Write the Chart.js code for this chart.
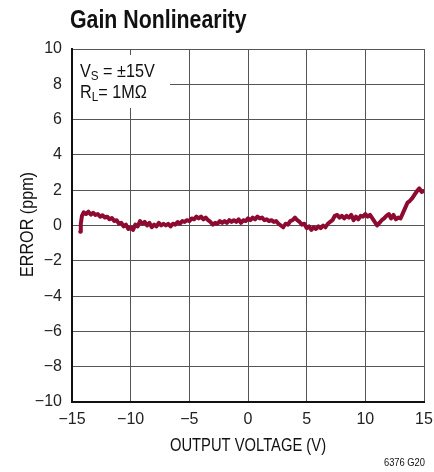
<!DOCTYPE html>
<html lang="en">
<head>
  <meta charset="UTF-8">
  <title>Gain Nonlinearity</title>
  <script src="https://cdn.jsdelivr.net/npm/chart.js@4.4.1/dist/chart.umd.min.js"></script>
  <style>
    * { margin: 0; padding: 0; box-sizing: border-box; }
    body { background: #fff; width: 434px; height: 472px; overflow: hidden; }
    canvas { display: block; }
  </style>
</head>
<body>
<canvas id="chart" width="434" height="472"></canvas>
<script>
// Output voltage (V) and gain error (ppm)
const voltage = [
  -14.3, -14.25, -14.15, -14.0, -13.8, -13.6, -13.4, -13.2, -13.0, -12.8,
  -12.6, -12.4, -12.2, -12.0, -11.8, -11.6, -11.4, -11.2, -11.0, -10.8,
  -10.6, -10.4, -10.2, -10.0, -9.8, -9.6, -9.4, -9.2, -9.0, -8.8,
  -8.6, -8.4, -8.2, -8.0, -7.8, -7.6, -7.4, -7.2, -7.0, -6.8,
  -6.6, -6.4, -6.2, -6.0, -5.8, -5.6, -5.4, -5.2, -5.0, -4.8,
  -4.6, -4.4, -4.2, -4.0, -3.8, -3.6, -3.4, -3.2, -3.0, -2.8,
  -2.6, -2.4, -2.2, -2.0, -1.8, -1.6, -1.4, -1.2, -1.0, -0.8,
  -0.6, -0.4, -0.2, 0.0, 0.2, 0.4, 0.6, 0.8, 1.0, 1.2,
  1.4, 1.6, 1.8, 2.0, 2.2, 2.4, 2.6, 2.8, 3.0, 3.2,
  3.4, 3.6, 3.8, 4.0, 4.2, 4.4, 4.6, 4.8, 5.0, 5.2,
  5.4, 5.6, 5.8, 6.0, 6.2, 6.4, 6.6, 6.8, 7.0, 7.2,
  7.4, 7.6, 7.8, 8.0, 8.2, 8.4, 8.6, 8.8, 9.0, 9.2,
  9.4, 9.6, 9.8, 10.0, 10.2, 10.4, 10.6, 10.8, 11.0, 11.2,
  11.4, 11.6, 11.8, 12.0, 12.2, 12.4, 12.6, 12.8, 13.0, 13.2,
  13.4, 13.6, 13.8, 14.0, 14.2, 14.4, 14.6, 14.8, 14.95
];
const errorPpm = [
  -0.35, 0.1, 0.55, 0.75, 0.65, 0.78, 0.62, 0.72, 0.6, 0.65,
  0.5, 0.58, 0.45, 0.5, 0.35, 0.42, 0.25, 0.3, 0.1, 0.15,
  -0.05, 0.05, -0.2, -0.1, -0.25, 0.05, -0.05, 0.25, 0.1, 0.2,
  0.0, 0.15, -0.1, 0.05, -0.05, 0.15, 0.0, 0.1, 0.0, 0.1,
  -0.05, 0.1, 0.05, 0.2, 0.1, 0.25, 0.2, 0.3, 0.25, 0.4,
  0.35, 0.5, 0.4, 0.5, 0.35, 0.45, 0.3, 0.2, 0.05, 0.15,
  0.1, 0.25, 0.15, 0.25, 0.15, 0.3, 0.2, 0.3, 0.2, 0.35,
  0.15, 0.3, 0.25, 0.4, 0.3, 0.45, 0.35, 0.5, 0.4, 0.45,
  0.3, 0.35, 0.25, 0.3, 0.2, 0.25, 0.1, 0.0, -0.1, 0.1,
  0.05, 0.25, 0.3, 0.45, 0.3, 0.2, 0.05, 0.1, -0.15, -0.05,
  -0.25, -0.1, -0.2, -0.05, -0.15, 0.0, -0.1, 0.1, 0.2, 0.3,
  0.55, 0.6, 0.45, 0.55, 0.4, 0.55, 0.45, 0.6, 0.3, 0.5,
  0.35, 0.55, 0.5, 0.65, 0.5, 0.6, 0.4, 0.2, 0.0, 0.15,
  0.3, 0.4, 0.55, 0.65, 0.4, 0.6, 0.35, 0.45, 0.4, 0.7,
  1.0, 1.3, 1.4, 1.55, 1.75, 1.95, 2.1, 1.9, 1.95
];
const xTicks = [-15, -10, -5, 0, 5, 10, 15];
const yTicks = [-10, -8, -6, -4, -2, 0, 2, 4, 6, 8, 10];

const SANS = "'Liberation Sans', Arial, sans-serif";
const minus = v => String(v).replace('-', '\u2212');

// condensed text: squeeze Liberation Sans horizontally
function narrowText(ctx, text, x, y, sx, font, align) {
  ctx.save();
  ctx.font = font;
  ctx.textAlign = align || 'left';
  ctx.translate(x, y);
  ctx.scale(sx, 1);
  ctx.fillText(text, 0, 0);
  const w = ctx.measureText(text).width * sx;
  ctx.restore();
  return w;
}

// white note box + text labels drawn on the canvas
const notes = {
  id: 'notes',
  beforeDatasetsDraw(chart) {
    const { ctx, chartArea } = chart;
    ctx.save();
    ctx.fillStyle = '#fff';
    ctx.fillRect(chartArea.left + 1, chartArea.top + 6, 97, 53);
    ctx.restore();
  },
  afterDraw(chart) {
    const { ctx, chartArea } = chart;
    ctx.save();
    ctx.fillStyle = '#111';
    ctx.textBaseline = 'alphabetic';

    narrowText(ctx, 'Gain Nonlinearity', 70, 28, 0.82, `bold 26px ${SANS}`);

    // conditions note
    const x0 = chartArea.left + 8;
    let x = x0;
    x += narrowText(ctx, 'V', x, 77, 0.9, `18px ${SANS}`);
    x += narrowText(ctx, 'S', x, 80, 0.9, `13px ${SANS}`);
    narrowText(ctx, ' = \u00b115V', x, 77, 0.9, `18px ${SANS}`);
    x = x0;
    x += narrowText(ctx, 'R', x, 98, 0.9, `18px ${SANS}`);
    x += narrowText(ctx, 'L', x, 101, 0.9, `13px ${SANS}`);
    narrowText(ctx, '= 1M\u03a9', x, 98, 0.9, `18px ${SANS}`);

    // axis titles
    const cx = (chartArea.left + chartArea.right) / 2;
    narrowText(ctx, 'OUTPUT VOLTAGE (V)', cx, 451, 0.82, `18px ${SANS}`, 'center');
    ctx.save();
    ctx.translate(33, (chartArea.top + chartArea.bottom) / 2 - 1);
    ctx.rotate(-Math.PI / 2);
    narrowText(ctx, 'ERROR (ppm)', 0, 0, 0.85, `19px ${SANS}`, 'center');
    ctx.restore();

    narrowText(ctx, '6376 G20', 425, 466, 0.85, `11px ${SANS}`, 'right');
    ctx.restore();
  }
};

new Chart(document.getElementById('chart'), {
  type: 'line',
  data: {
    datasets: [{
      data: voltage.map((v, i) => ({ x: v, y: errorPpm[i] })),
      borderColor: '#8e0a30',
      borderWidth: 4,
      pointRadius: 0,
      tension: 0,
      borderJoinStyle: 'round',
      borderCapStyle: 'round',
    }],
  },
  options: {
    responsive: false,
    animation: false,
    layout: { padding: { top: 49, right: 10, left: 0, bottom: 0 } },
    plugins: {
      legend: { display: false },
      tooltip: { enabled: false },
    },
    scales: {
      x: {
        type: 'linear',
        min: -15,
        max: 15,
        afterFit: s => { s.height = 70; s.paddingLeft = 0; s.paddingRight = 0; },
        afterBuildTicks: s => { s.ticks = xTicks.map(v => ({ value: v })); },
        ticks: {
          padding: 8,
          color: '#222',
          font: { family: SANS, size: 16 },
          callback: v => minus(v),
        },
        grid: { color: '#555', lineWidth: 1, drawTicks: false },
        border: { color: '#111', width: 2 },
      },
      y: {
        min: -10,
        max: 10,
        afterFit: s => { s.width = 72; s.paddingTop = 0; s.paddingBottom = 0; },
        afterBuildTicks: s => { s.ticks = yTicks.map(v => ({ value: v })); },
        ticks: {
          padding: 10,
          color: '#222',
          font: { family: SANS, size: 16 },
          callback: v => minus(v),
        },
        grid: { color: '#555', lineWidth: 1, drawTicks: false },
        border: { color: '#111', width: 2 },
      },
    },
  },
  plugins: [notes],
});
</script>
</body>
</html>
